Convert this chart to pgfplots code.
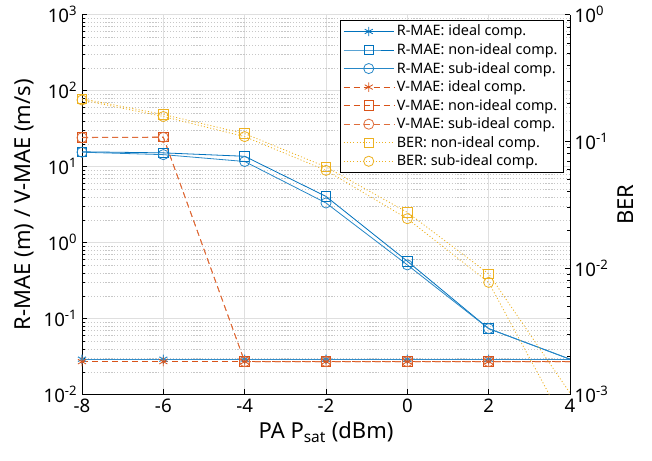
\documentclass[border=0pt]{standalone}
\usepackage{fontspec}
\setmainfont{Noto Sans}
\usepackage{pgfplots}
\pgfplotsset{compat=1.18}
\usetikzlibrary{calc}
\definecolor{mblue}{rgb}{0,0.447,0.741}
\definecolor{mred}{rgb}{0.850,0.325,0.098}
\definecolor{myel}{rgb}{0.929,0.694,0.125}

\pgfplotsset{
 common/.style={
  width=366pt, height=285pt, scale only axis,
  xmin=-8, xmax=4, xtick={-8,-6,...,4},
  log basis y=10,
  tick align=inside,
  major tick length=4pt, minor tick length=2.2pt,
  /pgf/number format/assume math mode=true,
  tick label style={font=\fontsize{14}{16}\selectfont},
  label style={font=\fontsize{16.5}{19}\selectfont},
  yticklabel={\pgfmathparse{int(round(\tick))}10\textsuperscript{\pgfmathresult}},
  axis line style={black, line width=0.5pt},
  every tick/.style={black, line width=0.4pt},
 },
 dashV/.style={dash pattern=on 4.5pt off 3pt},
 dotB/.style={dash pattern=on 0.8pt off 1.6pt},
}

\begin{document}
\begin{tikzpicture}
\begin{axis}[common, name=ax,
  ymode=log, ymin=1e-2, ymax=1e3,
  ytick={1e-2,1e-1,1,10,100,1000},
  minor ytick={0.02,0.03,0.04,0.05,0.06,0.07,0.08,0.09,
               0.2,0.3,0.4,0.5,0.6,0.7,0.8,0.9,
               2,3,4,5,6,7,8,9,20,30,40,50,60,70,80,90,
               200,300,400,500,600,700,800,900},
  axis y line*=left, axis x line*=bottom,
  xmajorgrids=true, ymajorgrids=true, yminorgrids=true,
  major grid style={gray!25, line width=0.5pt},
  minor grid style={black!22, dash pattern=on 0.9pt off 1.3pt, line width=0.4pt},
  xlabel={PA P\textsubscript{sat} (dBm)},
  ylabel={R-MAE (m) / V-MAE (m/s)},
]
% R-MAE ideal
\addplot[mblue!80, line width=0.8pt, mark=asterisk, mark size=3.5pt, mark indices={1,2,3,4,5,6}]
 coordinates {(-8,0.0293)(-6,0.0293)(-4,0.0293)(-2,0.0293)(0,0.0293)(2,0.0293)(4,0.0293)};
% R-MAE non-ideal
\addplot[mblue, line width=0.6pt, mark=square, mark size=3.6pt, mark indices={1,2,3,4,5,6}]
 coordinates {(-8,15.7)(-6,15.2)(-4,13.7)(-2,4.06)(0,0.57)(2,0.074)(4,0.0293)};
% R-MAE sub-ideal
\addplot[mblue!85, line width=0.6pt, mark=o, mark size=3.8pt, mark indices={1,2,3,4,5,6}]
 coordinates {(-8,15.5)(-6,14.4)(-4,11.7)(-2,3.33)(0,0.51)(2,0.074)(4,0.0293)};
% V-MAE ideal
\addplot[mred, line width=0.6pt, dashV, mark=asterisk, mark size=3.5pt, mark options={solid}, mark indices={1,2,3,4,5,6}]
 coordinates {(-8,0.0272)(-6,0.0272)(-4,0.0272)(-2,0.0272)(0,0.0272)(2,0.0272)(4,0.0272)};
% V-MAE non-ideal
\addplot[mred, line width=0.6pt, dashV, mark=square, mark size=3.6pt, mark options={solid}, mark indices={1,2,3,4,5,6}]
 coordinates {(-8,24.3)(-6,24.5)(-4,0.0272)(-2,0.0272)(0,0.0272)(2,0.0272)(4,0.0272)};
% V-MAE sub-ideal
\addplot[mred!85, line width=0.6pt, dashV, mark=o, mark size=3.8pt, mark options={solid}, mark indices={1,2,3,4,5,6}]
 coordinates {(-8,24.1)(-6,24.3)(-4,0.0272)(-2,0.0272)(0,0.0272)(2,0.0272)(4,0.0272)};
\end{axis}

\begin{axis}[common,
  ymode=log, ymin=1e-3, ymax=1,
  ytick={1e-3,1e-2,1e-1,1},
  minor ytick={0.002,0.003,0.004,0.005,0.006,0.007,0.008,0.009,
               0.02,0.03,0.04,0.05,0.06,0.07,0.08,0.09,
               0.2,0.3,0.4,0.5,0.6,0.7,0.8,0.9},
  axis y line*=right, axis x line=none,
  ylabel={BER},
  legend image code/.code={\draw[#1, mark indices={2}] plot coordinates {(0cm,0cm) (0.66cm,0cm) (1.32cm,0cm)};},
  legend style={at={(0.986,0.986)}, anchor=north east, draw=black, line width=0.5pt,
    font=\fontsize{10.8}{12.5}\selectfont, cells={anchor=west},
    inner xsep=2pt, inner ysep=1.5pt, row sep=0.2pt},
]
\addlegendimage{mblue, line width=0.6pt, mark=asterisk, mark size=3.5pt}
\addlegendentry{R-MAE: ideal comp.}
\addlegendimage{mblue, line width=0.6pt, mark=square, mark size=3.6pt}
\addlegendentry{R-MAE: non-ideal comp.}
\addlegendimage{mblue!85, line width=0.6pt, mark=o, mark size=3.8pt}
\addlegendentry{R-MAE: sub-ideal comp.}
\addlegendimage{mred, line width=0.6pt, dashV, mark=asterisk, mark size=3.5pt, mark options={solid}}
\addlegendentry{V-MAE: ideal comp.}
\addlegendimage{mred, line width=0.6pt, dashV, mark=square, mark size=3.6pt, mark options={solid}}
\addlegendentry{V-MAE: non-ideal comp.}
\addlegendimage{mred!85, line width=0.6pt, dashV, mark=o, mark size=3.8pt, mark options={solid}}
\addlegendentry{V-MAE: sub-ideal comp.}
% BER non-ideal
\addplot[myel, line width=0.6pt, dotB, mark=square, mark size=3.6pt, mark options={solid}, mark indices={1,2,3,4,5,6}]
 coordinates {(-8,0.217)(-6,0.163)(-4,0.115)(-2,0.0628)(0,0.0275)(2,0.0090)(4,0.00103)};
\addlegendentry{BER: non-ideal comp.}
% BER sub-ideal
\addplot[myel, line width=0.6pt, dotB, mark=o, mark size=3.8pt, mark options={solid}, mark indices={1,2,3,4,5,6}]
 coordinates {(-8,0.212)(-6,0.157)(-4,0.109)(-2,0.059)(0,0.0245)(2,0.0077)(4,0.0005)};
\addlegendentry{BER: sub-ideal comp.}
\end{axis}
\pgfresetboundingbox
\path ($(ax.south west)+(-61.5pt,-49pt)$) rectangle ($(ax.north east)+(61.5pt,11pt)$);
\end{tikzpicture}
\end{document}
